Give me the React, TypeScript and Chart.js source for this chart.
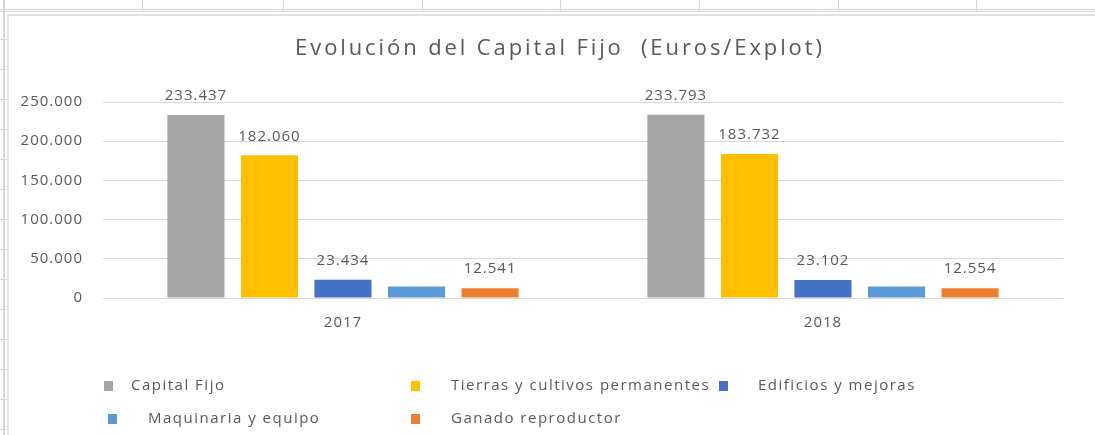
import { useEffect, useRef } from 'react';
import { Chart, registerables } from 'chart.js';

Chart.register(...registerables);

const categories = ['2017', '2018'];
const seriesNames = [
  'Capital Fijo',
  'Tierras y cultivos permanentes',
  'Edificios y mejoras',
  'Maquinaria y equipo',
  'Ganado reproductor',
];
const capitalFijo = [233437, 233793];
const tierrasCultivos = [182060, 183732];
const edificiosMejoras = [23434, 23102];
const maquinariaEquipo = [14650, 14700];
const ganadoReproductor = [12541, 12554];
const showValueLabel = [true, true, true, false, true];
const yMin = 0;
const yMax = 250000;
const yStep = 50000;
const titleText = 'Evolución del Capital Fijo  (Euros/Explot)';

const seriesValues = [capitalFijo, tierrasCultivos, edificiosMejoras, maquinariaEquipo, ganadoReproductor];
const seriesColors = ['#A5A5A5', '#FFC000', '#4472C4', '#5B9BD5', '#ED7D31'];

const FONT = '"Open Sans", sans-serif';
const TEXT = '#595959';

const fmt = (v: number) => Math.round(v).toString().replace(/\B(?=(\d{3})+(?!\d))/g, '.');

// legend layout: [marker x, text x, row y]
const legendLayout = [
  [104, 131, 386],
  [411, 451, 386],
  [719, 758, 386],
  [108, 148, 419],
  [411, 451, 419],
];

const sheetPlugin = {
  id: 'sheet',
  beforeDraw(chart: any) {
    const ctx = chart.ctx;
    const W = chart.width;
    const H = chart.height;
    ctx.save();
    ctx.fillStyle = '#ffffff';
    ctx.fillRect(0, 0, W, H);
    ctx.strokeStyle = '#D6D6D6';
    ctx.lineWidth = 1;
    // spreadsheet cell lines
    [142, 283, 422, 560, 699, 838, 976].forEach((x) => {
      ctx.beginPath();
      ctx.moveTo(x + 0.5, 0);
      ctx.lineTo(x + 0.5, 11);
      ctx.stroke();
    });
    [9, 11].forEach((y) => {
      ctx.beginPath();
      ctx.moveTo(0, y + 0.5);
      ctx.lineTo(W, y + 0.5);
      ctx.stroke();
    });
    ctx.lineWidth = 2;
    ctx.beginPath();
    ctx.moveTo(4, 0);
    ctx.lineTo(4, H);
    ctx.stroke();
    ctx.lineWidth = 1;
    for (let y = 39; y < H; y += 30) {
      ctx.beginPath();
      ctx.moveTo(0, y + 0.5);
      ctx.lineTo(8, y + 0.5);
      ctx.stroke();
    }
    // chart frame
    ctx.strokeStyle = '#E2E2E2';
    ctx.lineWidth = 2;
    ctx.beginPath();
    ctx.moveTo(8, H);
    ctx.lineTo(8, 15);
    ctx.lineTo(W, 15);
    ctx.stroke();
    ctx.restore();
    // title
    ctx.save();
    (ctx as any).letterSpacing = '2.9px';
    ctx.font = `22px ${FONT}`;
    ctx.fillStyle = TEXT;
    ctx.textAlign = 'center';
    ctx.textBaseline = 'alphabetic';
    ctx.fillText(titleText, 560, 55);
    ctx.restore();
    (ctx as any).letterSpacing = '1px';
  },
  afterDraw(chart: any) {
    const ctx = chart.ctx;
    ctx.save();
    (ctx as any).letterSpacing = '1px';
    ctx.font = `15px ${FONT}`;
    ctx.fillStyle = TEXT;
    ctx.textAlign = 'center';
    ctx.textBaseline = 'middle';
    chart.data.datasets.forEach((ds: any, di: number) => {
      if (!showValueLabel[di]) return;
      const meta = chart.getDatasetMeta(di);
      meta.data.forEach((bar: any, i: number) => {
        ctx.fillText(fmt(ds.data[i]), bar.x, bar.y - 19);
      });
    });
    // legend
    (ctx as any).letterSpacing = '1.5px';
    ctx.textAlign = 'left';
    chart.data.datasets.forEach((ds: any, di: number) => {
      const [mx, tx, y] = legendLayout[di];
      ctx.fillStyle = ds.backgroundColor;
      ctx.fillRect(mx, y - 5, 9, 10);
      ctx.fillStyle = TEXT;
      ctx.fillText(ds.label, tx, y);
    });
    ctx.restore();
    (ctx as any).letterSpacing = '0px';
  },
};

export default function App() {
  const ref = useRef<HTMLCanvasElement>(null);
  useEffect(() => {
    if (!ref.current) return;
    const chart = new Chart(ref.current, {
      type: 'bar',
      data: {
        labels: categories,
        datasets: seriesNames.map((name, i) => ({
          label: name,
          data: seriesValues[i],
          backgroundColor: seriesColors[i],
          borderWidth: 0,
          categoryPercentage: 0.766,
          barPercentage: 0.776,
        })),
      },
      options: {
        animation: false,
        responsive: false,
        devicePixelRatio: 1,
        layout: { padding: { left: 0, right: 32, top: 102, bottom: 97 } },
        plugins: {
          legend: { display: false },
          title: { display: false },
          tooltip: { enabled: false },
        },
        scales: {
          x: {
            grid: { display: false, drawTicks: false },
            border: { display: false },
            ticks: { color: TEXT, font: { family: FONT, size: 15 }, padding: 16 },
            afterFit: (s: any) => {
              s.height = 40;
            },
          },
          y: {
            min: yMin,
            max: yMax,
            grid: { color: '#D9D9D9', lineWidth: 1, drawTicks: false },
            border: { display: false },
            ticks: {
              stepSize: yStep,
              color: TEXT,
              font: { family: FONT, size: 15 },
              padding: 20,
              callback: (v: any) => fmt(Number(v)),
            },
            afterFit: (s: any) => {
              s.width = 103;
            },
          },
        },
      },
      plugins: [sheetPlugin],
    });
    return () => chart.destroy();
  }, []);
  return (
    <div style={{ position: 'fixed', left: 0, top: 0, width: 1095, height: 435, background: '#fff' }}>
      <canvas ref={ref} width={1095} height={435} style={{ display: 'block', width: 1095, height: 435 }} />
    </div>
  );
}
